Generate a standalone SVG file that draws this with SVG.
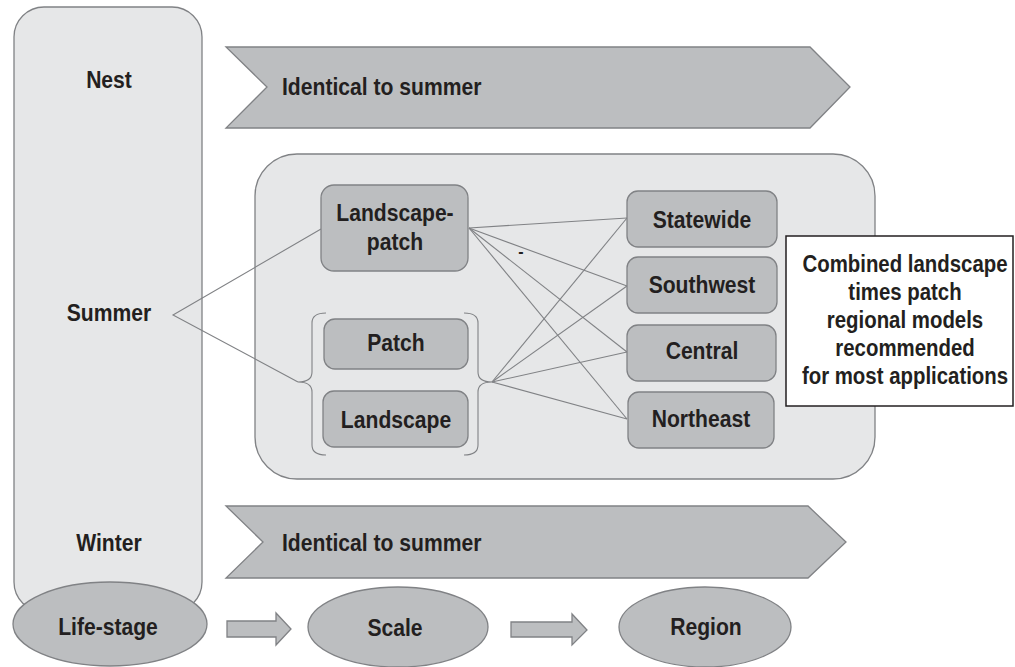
<svg xmlns="http://www.w3.org/2000/svg" width="1015" height="667" viewBox="0 0 1015 667">
<style>
.t{font-family:"Liberation Sans",Arial,sans-serif;font-weight:bold;font-size:24px;fill:#231f20}
.c{text-anchor:middle}
.panel{fill:#e6e7e8;stroke:#808285;stroke-width:1.3}
.box{fill:#bcbec0;stroke:#808285;stroke-width:1.3}
.ln{fill:none;stroke:#808285;stroke-width:1.1}
</style>
<rect width="1015" height="667" fill="#ffffff"/>
<g id="lifestage-column">
<rect class="panel" x="14" y="7" width="188" height="605" rx="30"/>
<text class="t c" transform="translate(109,88) scale(.88,1)">Nest</text>
<text class="t c" transform="translate(109,321) scale(.88,1)">Summer</text>
<text class="t c" transform="translate(109,551) scale(.88,1)">Winter</text>
</g>
<g id="nest-banner">
<polygon class="box" points="226,47 810,47 850,87 810,128 226,128 267,87"/>
<text class="t" transform="translate(282,95) scale(.88,1)">Identical to summer</text>
</g>
<g id="summer-panel">
<rect class="panel" x="255" y="154" width="620" height="325" rx="42"/>
</g>
<g id="winter-banner">
<polygon class="box" points="226,506 808,506 846,542 808,578 226,578 263,542"/>
<text class="t" transform="translate(282,551) scale(.88,1)">Identical to summer</text>
</g>
<g id="connectors">
<polyline class="ln" points="321,229 173,315 298,382"/>
<path class="ln" d="M326,313 Q312,313 312,323 L312,372 Q312,382 298,382 Q312,382 312,392 L312,445 Q312,455 326,455"/>
<path class="ln" d="M464,313 Q478,313 478,323 L478,372 Q478,382 492,382 Q478,382 478,392 L478,445 Q478,455 464,455"/>
<line class="ln" x1="469" y1="228" x2="627" y2="218"/>
<line class="ln" x1="469" y1="228" x2="627" y2="286"/>
<line class="ln" x1="469" y1="228" x2="627" y2="352"/>
<line class="ln" x1="469" y1="228" x2="627" y2="419"/>
<line class="ln" x1="492" y1="382" x2="627" y2="218"/>
<line class="ln" x1="492" y1="382" x2="627" y2="286"/>
<line class="ln" x1="492" y1="382" x2="627" y2="352"/>
<line class="ln" x1="492" y1="382" x2="627" y2="419"/>
<polygon class="box" points="227,621 276,621 276,613 291,629 276,645 276,637 227,637"/>
<polygon class="box" points="511,622 572,622 572,614 587,630 572,645 572,637 511,637"/>
</g>
<text x="521" y="257" text-anchor="middle" font-family="Liberation Sans, sans-serif" font-weight="bold" font-size="16" fill="#231f20">-</text>
<g id="landscape-patch">
<rect class="box" x="321" y="185" width="147" height="86" rx="13"/>
<text class="t c" transform="translate(395,221) scale(.88,1)">Landscape-</text>
<text class="t c" transform="translate(395,250) scale(.88,1)">patch</text>
</g>
<g id="patch">
<rect class="box" x="324" y="319" width="144" height="50" rx="11"/>
<text class="t c" transform="translate(396,351) scale(.88,1)">Patch</text>
</g>
<g id="landscape">
<rect class="box" x="323" y="391" width="145" height="56" rx="11"/>
<text class="t c" transform="translate(396,428) scale(.88,1)">Landscape</text>
</g>
<g id="statewide">
<rect class="box" x="627" y="191" width="150" height="56" rx="11"/>
<text class="t c" transform="translate(702,228) scale(.88,1)">Statewide</text>
</g>
<g id="southwest">
<rect class="box" x="627" y="257" width="150" height="56" rx="11"/>
<text class="t c" transform="translate(702,293) scale(.88,1)">Southwest</text>
</g>
<g id="central">
<rect class="box" x="627" y="325" width="149" height="56" rx="11"/>
<text class="t c" transform="translate(702,359) scale(.88,1)">Central</text>
</g>
<g id="northeast">
<rect class="box" x="628" y="392" width="146" height="56" rx="11"/>
<text class="t c" transform="translate(701,427) scale(.88,1)">Northeast</text>
</g>
<g id="callout">
<rect x="786" y="236" width="227" height="170" fill="#ffffff" stroke="#231f20" stroke-width="1.5"/>
<text class="t c" transform="translate(905,272) scale(.85,1)">Combined landscape</text>
<text class="t c" transform="translate(905,300) scale(.85,1)">times patch</text>
<text class="t c" transform="translate(905,328) scale(.85,1)">regional models</text>
<text class="t c" transform="translate(905,356) scale(.85,1)">recommended</text>
<text class="t c" transform="translate(905,384) scale(.85,1)">for most applications</text>
</g>
<g id="lifestage-label">
<ellipse class="box" cx="110" cy="624" rx="97" ry="42"/>
<text class="t c" transform="translate(108,635) scale(.88,1)">Life-stage</text>
</g>
<g id="scale-label">
<ellipse class="box" cx="398" cy="627" rx="90" ry="40"/>
<text class="t c" transform="translate(395,636) scale(.88,1)">Scale</text>
</g>
<g id="region-label">
<ellipse class="box" cx="705" cy="627" rx="86" ry="40"/>
<text class="t c" transform="translate(706,635) scale(.88,1)">Region</text>
</g>
</svg>
